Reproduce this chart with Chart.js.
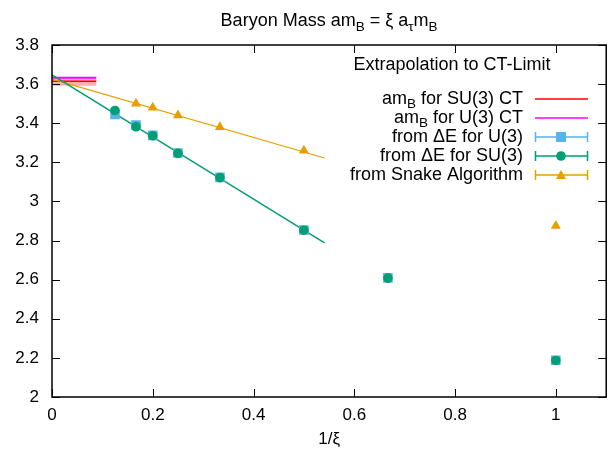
<!DOCTYPE html>
<html>
<head>
<meta charset="utf-8">
<script src="https://cdn.jsdelivr.net/npm/chart.js@4/dist/chart.umd.min.js"></script>
<style>
  html, body { margin: 0; padding: 0; background: #fff; }
  canvas { display: block; }
</style>
</head>
<body>
<canvas id="mychart" width="613" height="453"></canvas>
<script>
// 1/xi values of the lattices
var invXi = [0.125, 0.1667, 0.2, 0.25, 0.3333, 0.5, 0.6667, 1];
var massU3 = [3.445, 3.39, 3.338, 3.248, 3.123, 2.854, 2.609, 2.188];
var massSU3 = [3.465, 3.382, 3.336, 3.246, 3.122, 2.853, 2.608, 2.187];

var snakeX = [0.1667, 0.2, 0.25, 0.3333, 0.5, 1];
var snakeY = [3.50, 3.48, 3.44, 3.38, 3.26, 2.875];

// linear extrapolation lines (end points)
var fitX = [0, 0.541];
var fitDeltaE = [3.647, 2.788];
var fitSnake = [3.626, 3.222];

// CT-limit values with error bands
var ctX = [0, 0.088];
var ctSU3 = 3.615, ctSU3lo = 3.592, ctSU3hi = 3.626;
var ctU3 = 3.632, ctU3lo = 3.627, ctU3hi = 3.637;

var xTicks = [0, 0.2, 0.4, 0.6, 0.8, 1];
var yTicks = [2, 2.2, 2.4, 2.6, 2.8, 3, 3.2, 3.4, 3.6, 3.8];

var FONT = '"Liberation Sans", Arial, sans-serif';
var FS = 18, FSUB = 13.5;
var cRed = '#ff0000', cMag = '#ff00ff', cBlue = '#56b4e9', cGreen = '#009e73', cOrange = '#e69f00';

function pts(xs, ys) {
    return xs.map(function (v, i) { return { x: v, y: ys[i] }; });
}
function flat(xs, v) {
    return xs.map(function (x) { return { x: x, y: v }; });
}

// text with subscripts: parts = [[text, isSub], ...]
function richWidth(ctx, parts) {
    var w = 0;
    parts.forEach(function (p) {
        ctx.font = (p[1] ? FSUB : FS) + 'px ' + FONT;
        w += ctx.measureText(p[0]).width;
    });
    return w;
}
function richText(ctx, parts, x, y) {
    parts.forEach(function (p) {
        ctx.font = (p[1] ? FSUB : FS) + 'px ' + FONT;
        ctx.fillText(p[0], x, p[1] ? y + 5 : y);
        x += ctx.measureText(p[0]).width;
    });
}

var titlePlugin = {
    id: 'gpTitle',
    afterDraw: function (chart) {
        var ctx = chart.ctx, a = chart.chartArea;
        ctx.save();
        ctx.fillStyle = '#000';
        ctx.textBaseline = 'alphabetic';
        ctx.textAlign = 'left';
        var parts = [['Baryon Mass am', false], ['B', true], [' = \u03be a', false], ['\u03c4', true], ['m', false], ['B', true]];
        var w = richWidth(ctx, parts);
        richText(ctx, parts, (a.left + a.right) / 2 - w / 2, 26);
        ctx.restore();
    }
};

var boxPlugin = {
    id: 'gpBox',
    afterDatasetsDraw: function (chart) {
        var ctx = chart.ctx, a = chart.chartArea;
        var x = chart.scales.x, y = chart.scales.y;
        ctx.save();
        ctx.strokeStyle = '#000';
        ctx.lineWidth = 1;
        ctx.beginPath();
        xTicks.forEach(function (v) {
            var px = Math.round(x.getPixelForValue(v)) + 0.5;
            ctx.moveTo(px, a.bottom); ctx.lineTo(px, a.bottom - 8);
            ctx.moveTo(px, a.top); ctx.lineTo(px, a.top + 8);
        });
        yTicks.forEach(function (v) {
            var py = Math.round(y.getPixelForValue(v)) + 0.5;
            ctx.moveTo(a.left, py); ctx.lineTo(a.left + 8, py);
            ctx.moveTo(a.right, py); ctx.lineTo(a.right - 8, py);
        });
        ctx.stroke();
        ctx.lineWidth = 1.5;
        ctx.strokeRect(a.left, a.top, a.right - a.left, a.bottom - a.top);
        ctx.restore();
    }
};

var legendPlugin = {
    id: 'gpLegend',
    afterDraw: function (chart) {
        var ctx = chart.ctx;
        var right = 523, x0 = 535, x1 = 588, xm = 561;
        ctx.save();
        ctx.fillStyle = '#000';
        ctx.textBaseline = 'middle';
        ctx.font = FS + 'px ' + FONT;
        ctx.textAlign = 'center';
        ctx.fillText('Extrapolation to CT-Limit', 452, 65);
        ctx.textAlign = 'left';
        var rows = [
            { y: 99, parts: [['am', false], ['B', true], [' for SU(3) CT', false]], color: cRed, kind: 'line' },
            { y: 118, parts: [['am', false], ['B', true], [' for U(3) CT', false]], color: cMag, kind: 'line' },
            { y: 137, parts: [['from \u0394E for U(3)', false]], color: cBlue, kind: 'rect' },
            { y: 156, parts: [['from \u0394E for SU(3)', false]], color: cGreen, kind: 'circle' },
            { y: 175, parts: [['from Snake Algorithm', false]], color: cOrange, kind: 'triangle' }
        ];
        rows.forEach(function (r) {
            ctx.fillStyle = '#000';
            var w = richWidth(ctx, r.parts);
            richText(ctx, r.parts, right - w, r.y);
            ctx.strokeStyle = r.color;
            ctx.fillStyle = r.color;
            ctx.lineWidth = 1.5;
            ctx.beginPath();
            ctx.moveTo(x0, r.y); ctx.lineTo(x1, r.y);
            if (r.kind !== 'line') {
                ctx.moveTo(x0 + 0.5, r.y - 5); ctx.lineTo(x0 + 0.5, r.y + 5);
                ctx.moveTo(x1 - 0.5, r.y - 5); ctx.lineTo(x1 - 0.5, r.y + 5);
            }
            ctx.stroke();
            ctx.beginPath();
            if (r.kind === 'rect') {
                ctx.rect(xm - 5, r.y - 5, 10, 10);
            } else if (r.kind === 'circle') {
                ctx.arc(xm, r.y, 4.8, 0, Math.PI * 2);
            } else if (r.kind === 'triangle') {
                ctx.moveTo(xm, r.y - 5); ctx.lineTo(xm + 5, r.y + 4); ctx.lineTo(xm - 5, r.y + 4); ctx.closePath();
            }
            ctx.fill();
        });
        ctx.restore();
    }
};

var ctx = document.getElementById('mychart').getContext('2d');

var mychart = new Chart(ctx, {
    type: 'scatter',
    data: {
        datasets: [
            { label: 'from Snake Algorithm', data: pts(snakeX, snakeY), pointStyle: 'triangle', pointRadius: 5.8,
              backgroundColor: cOrange, borderColor: cOrange, borderWidth: 0, showLine: false },
            { label: 'from dE for SU(3)', data: pts(invXi, massSU3), pointStyle: 'circle', pointRadius: 4.8,
              backgroundColor: cGreen, borderColor: cGreen, borderWidth: 0, showLine: false },
            { label: 'from dE for U(3)', data: pts(invXi, massU3), pointStyle: 'rect', pointRadius: 6.8,
              backgroundColor: cBlue, borderColor: cBlue, borderWidth: 0, showLine: false },
            { label: 'fit dE', data: pts(fitX, fitDeltaE), showLine: true, pointRadius: 0,
              borderColor: cGreen, borderWidth: 1.5, fill: false },
            { label: 'fit snake', data: pts(fitX, fitSnake), showLine: true, pointRadius: 0,
              borderColor: cOrange, borderWidth: 1.2, fill: false },
            { label: 'U(3) CT', data: flat(ctX, ctU3), showLine: true, pointRadius: 0,
              borderColor: cMag, borderWidth: 2, fill: false },
            { label: 'SU(3) CT', data: flat(ctX, ctSU3), showLine: true, pointRadius: 0,
              borderColor: cRed, borderWidth: 1.5, fill: false },
            { label: 'U(3) hi', data: flat(ctX, ctU3hi), showLine: true, pointRadius: 0, borderWidth: 0,
              borderColor: 'rgba(0,0,0,0)', backgroundColor: 'rgba(255,120,255,0.55)', fill: '+1' },
            { label: 'U(3) lo', data: flat(ctX, ctU3lo), showLine: true, pointRadius: 0, borderWidth: 0,
              borderColor: 'rgba(0,0,0,0)', fill: false },
            { label: 'SU(3) hi', data: flat(ctX, ctSU3hi), showLine: true, pointRadius: 0, borderWidth: 0,
              borderColor: 'rgba(0,0,0,0)', backgroundColor: 'rgba(255,140,140,0.7)', fill: '+1' },
            { label: 'SU(3) lo', data: flat(ctX, ctSU3lo), showLine: true, pointRadius: 0, borderWidth: 0,
              borderColor: 'rgba(0,0,0,0)', fill: false }
        ]
    },
    options: {
        responsive: false,
        animation: false,
        devicePixelRatio: 1,
        layout: { padding: { top: 45, right: 2, left: 0, bottom: 0 } },
        plugins: {
            legend: { display: false },
            tooltip: { enabled: false },
            title: { display: false }
        },
        scales: {
            x: {
                type: 'linear', min: 0, max: 1.1,
                afterBuildTicks: function (s) { s.ticks = xTicks.map(function (v) { return { value: v }; }); },
                afterFit: function (s) { s.height = 56; },
                grid: { display: false, drawTicks: false },
                border: { display: false },
                ticks: {
                    color: '#000', padding: 8, maxRotation: 0,
                    font: { family: FONT, size: 17 },
                    callback: function (v) { return String(Math.round(v * 10) / 10); }
                },
                title: { display: true, text: '1/\u03be', color: '#000', padding: { top: 2, bottom: 3 },
                         font: { family: FONT, size: 17 } }
            },
            y: {
                type: 'linear', min: 2, max: 3.8,
                afterBuildTicks: function (s) { s.ticks = yTicks.map(function (v) { return { value: v }; }); },
                afterFit: function (s) { s.width = 52; },
                grid: { display: false, drawTicks: false },
                border: { display: false },
                ticks: {
                    color: '#000', padding: 13,
                    font: { family: FONT, size: 17 },
                    callback: function (v) { return String(Math.round(v * 10) / 10); }
                }
            }
        }
    },
    plugins: [titlePlugin, boxPlugin, legendPlugin]
});
</script>
</body>
</html>
